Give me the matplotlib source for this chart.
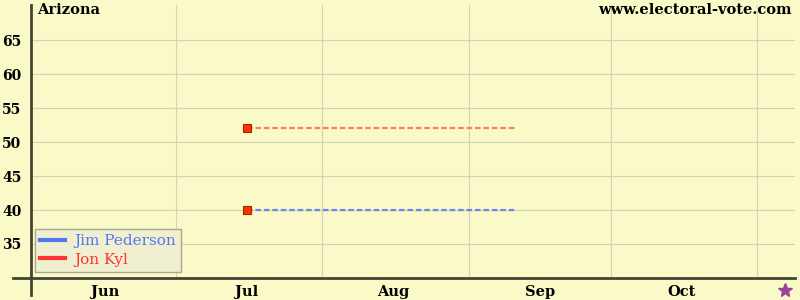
import datetime as dt
import matplotlib
matplotlib.use("Agg")
import matplotlib.pyplot as plt
import matplotlib.dates as mdates
import matplotlib.transforms as mtrans
from matplotlib.lines import Line2D

# ---- data ----
state = "Arizona"
site = "www.electoral-vote.com"
candidates = ["Jim Pederson", "Jon Kyl"]
poll_dates = ["2006-07-16"]
pederson = [40]
kyl = [52]
last_date = "2006-09-11"
election_date = "2006-11-07"
month_labels = ["Jun", "Jul", "Aug", "Sep", "Oct"]
month_label_dates = ["2006-06-16", "2006-07-16", "2006-08-16", "2006-09-16", "2006-10-16"]
month_starts = ["2006-07-01", "2006-08-01", "2006-09-01", "2006-10-01", "2006-11-01"]
y_ticks = [35, 40, 45, 50, 55, 60, 65]

def d(s):
    return mdates.date2num(dt.datetime.strptime(s, "%Y-%m-%d"))

bg = "#fafac8"
fig = plt.figure(figsize=(8, 3), dpi=100, facecolor=bg)
W, H = 800, 300
ax = fig.add_axes([31 / W, (H - 278) / H, (795 - 31) / W, (278 - 5) / H])
ax.set_facecolor(bg)
x0 = d("2006-06-01") - 0.7
ax.set_xlim(x0, x0 + (795 - 31) / 4.724)
ax.set_ylim(30, 30 + 273 / 6.8)

for s in ax.spines.values():
    s.set_visible(False)

grid_c = "#d4d4b8"
for m in month_starts:
    ax.axvline(d(m), color=grid_c, lw=0.9, zorder=1)
for yv in y_ticks:
    ax.axhline(yv, color=grid_c, lw=0.9, zorder=1)

ax.set_yticks(y_ticks)
ax.set_yticklabels([str(v) for v in y_ticks], fontfamily="DejaVu Serif",
                   fontweight="bold", fontsize=10)
ax.set_xticks([d(m) for m in month_label_dates])
ax.set_xticklabels(month_labels, fontfamily="DejaVu Serif", fontweight="bold", fontsize=10.5)
ax.tick_params(axis="y", length=0, pad=7)
ax.tick_params(axis="x", length=0, pad=5)

colors_line = ["#6688ee", "#ff7766"]
colors_leg = ["#5577ee", "#ff3333"]
series = [pederson, kyl]
for vals, c in zip(series, colors_line):
    xs = [d(p) for p in poll_dates] + [d(last_date)]
    ys = list(vals) + [vals[-1]]
    ax.plot(xs, ys, color=c, lw=1.6, ls=(0, (2.5, 1.3)), zorder=3)
    ax.plot([d(p) for p in poll_dates], vals, ls="none", marker="s", ms=5.5,
            mfc="#ff3300", mec="#aa2200", mew=0.8, zorder=4)

# axis lines extending beyond the plot
fig.add_artist(Line2D([13 / W, 795 / W], [(H - 277.5) / H] * 2, color="#444433", lw=2))
fig.add_artist(Line2D([31 / W] * 2, [(H - 5) / H, (H - 295) / H], color="#444433", lw=2))

# star for election day
star, = ax.plot([d(election_date)], [30], marker="*", ms=10, color="#994499",
                clip_on=False, zorder=5)
star.set_transform(ax.transData + mtrans.ScaledTranslation(0, -12 / 100, fig.dpi_scale_trans))

fig.text(37 / W, (H - 10) / H, state, fontfamily="DejaVu Serif", fontweight="bold",
         fontsize=10.5, va="center", ha="left")
fig.text(792 / W, (H - 10) / H, site, fontfamily="DejaVu Serif", fontweight="bold",
         fontsize=10.5, va="center", ha="right")

handles = [Line2D([], [], color=c, lw=3) for c in colors_leg]
leg = ax.legend(handles, candidates, loc="lower left", bbox_to_anchor=(4 / 764, 6 / 273),
                prop={"family": "DejaVu Serif", "size": 11}, frameon=True, fancybox=False,
                handlelength=1.6, handletextpad=0.6, borderpad=0.35, labelspacing=0.3,
                borderaxespad=0)
leg.get_frame().set_facecolor("#f0f0d0")
leg.get_frame().set_edgecolor("#a8a890")
leg.get_frame().set_alpha(1)
for t, c in zip(leg.get_texts(), colors_leg):
    t.set_color(c)

fig.savefig("out.png", dpi=100, facecolor=bg)
